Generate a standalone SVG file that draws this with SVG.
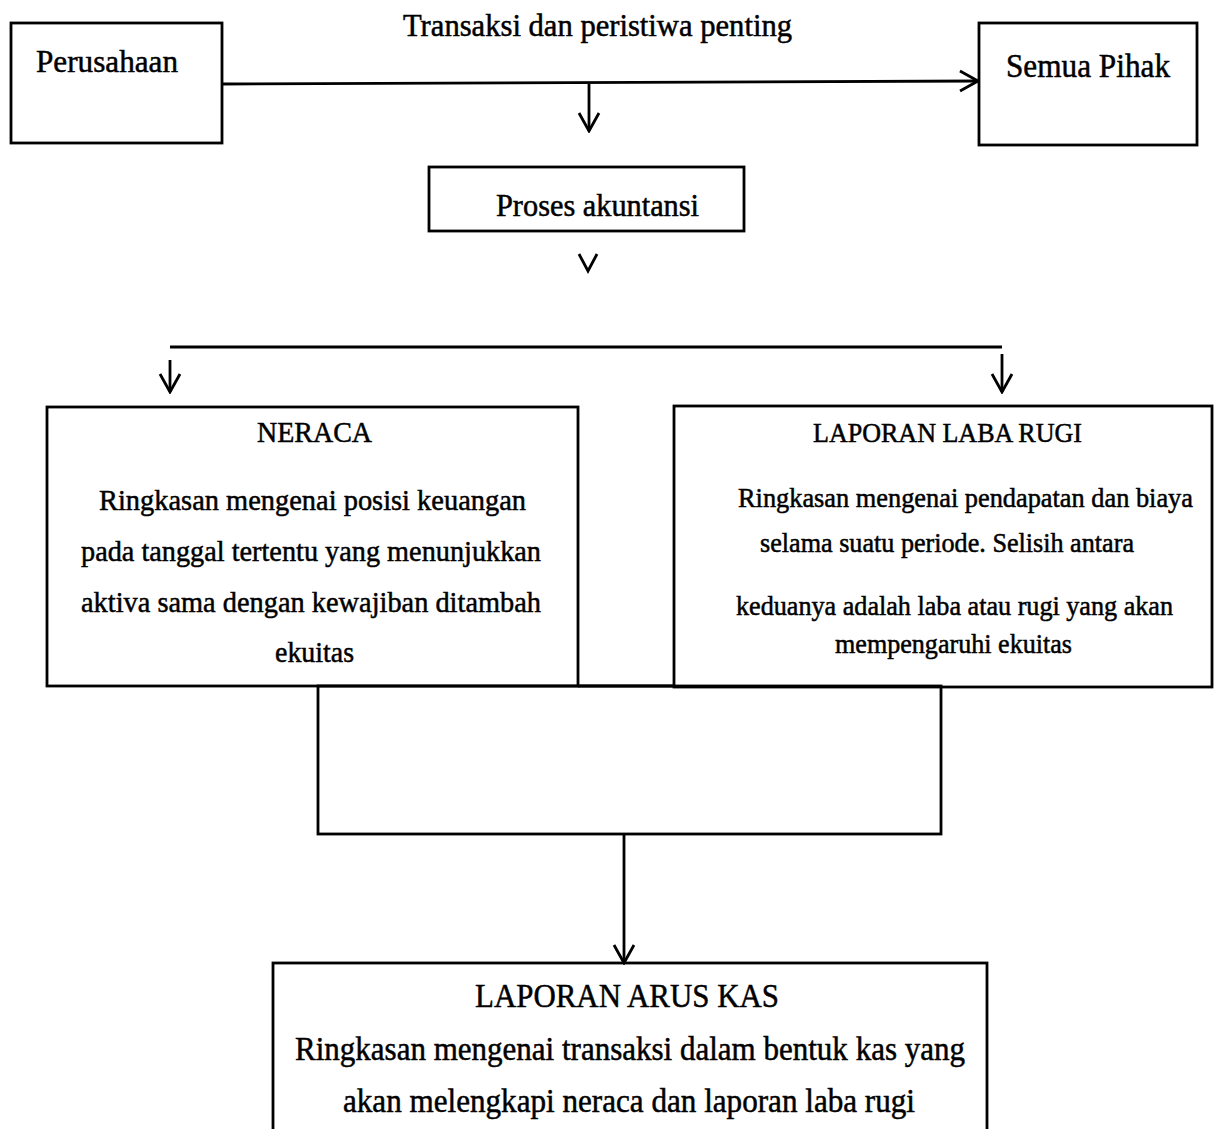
<svg xmlns="http://www.w3.org/2000/svg" width="1215" height="1129" viewBox="0 0 1215 1129">
<style>
  .box { fill: none; stroke: #000; stroke-width: 2.8; }
  .ln { fill: none; stroke: #000; stroke-width: 2.8; }
  text { font-family: "Liberation Serif", "Times New Roman", serif; fill: #000; stroke: #000; stroke-width: 0.5; }
</style>
<defs>
  <marker id="arrow" viewBox="0 0 22 24" refX="20" refY="12" markerWidth="22" markerHeight="24" orient="auto" markerUnits="userSpaceOnUse">
    <path d="M2,2 L20,12 L2,22" fill="none" stroke="#000" stroke-width="2.8"/>
  </marker>
</defs>
<rect width="1215" height="1129" fill="#fff"/>

<g id="connectors">
  <path class="ln" d="M222,84 L978,81" marker-end="url(#arrow)"/>
  <path class="ln" d="M589,84 L589,131" marker-end="url(#arrow)"/>
  <path class="ln" d="M579,254 L588,271 L597,254" stroke-width="3.2"/>
  <path class="ln" d="M170,347 L1002,347"/>
  <path class="ln" d="M170,360 L170,392" marker-end="url(#arrow)"/>
  <path class="ln" d="M1002,354 L1002,392" marker-end="url(#arrow)"/>
  <path class="ln" d="M578,686 L674,686"/>
  <path class="ln" d="M624,834 L624,963" marker-end="url(#arrow)"/>
</g>

<text id="lbl-transaksi" x="403" y="36" font-size="31" textLength="389" lengthAdjust="spacingAndGlyphs">Transaksi dan peristiwa penting</text>

<g id="node-perusahaan">
  <rect class="box" x="11" y="23" width="211" height="120"/>
  <text x="36" y="72" font-size="32" textLength="142" lengthAdjust="spacingAndGlyphs">Perusahaan</text>
</g>

<g id="node-semua-pihak">
  <rect class="box" x="979" y="23" width="218" height="122"/>
  <text x="1006" y="77" font-size="33" textLength="164" lengthAdjust="spacingAndGlyphs">Semua Pihak</text>
</g>

<g id="node-proses">
  <rect class="box" x="429" y="167" width="315" height="64"/>
  <text x="496" y="216" font-size="31" textLength="203" lengthAdjust="spacingAndGlyphs">Proses akuntansi</text>
</g>

<g id="node-neraca">
  <rect class="box" x="47" y="407" width="531" height="279"/>
  <text x="257" y="442" font-size="29" textLength="115" lengthAdjust="spacingAndGlyphs">NERACA</text>
  <text x="99" y="510" font-size="30" textLength="427" lengthAdjust="spacingAndGlyphs">Ringkasan mengenai posisi keuangan</text>
  <text x="81" y="561" font-size="30" textLength="460" lengthAdjust="spacingAndGlyphs">pada tanggal tertentu yang menunjukkan</text>
  <text x="81" y="612" font-size="30" textLength="460" lengthAdjust="spacingAndGlyphs">aktiva sama dengan kewajiban ditambah</text>
  <text x="275" y="662" font-size="30" textLength="79" lengthAdjust="spacingAndGlyphs">ekuitas</text>
</g>

<g id="node-laba-rugi">
  <rect class="box" x="674" y="406" width="538" height="281"/>
  <text x="813" y="442" font-size="27" textLength="269" lengthAdjust="spacingAndGlyphs">LAPORAN LABA RUGI</text>
  <text x="738" y="507" font-size="27" textLength="455" lengthAdjust="spacingAndGlyphs">Ringkasan mengenai pendapatan dan biaya</text>
  <text x="760" y="552" font-size="27" textLength="374" lengthAdjust="spacingAndGlyphs">selama suatu periode. Selisih antara</text>
  <text x="736" y="615" font-size="27" textLength="437" lengthAdjust="spacingAndGlyphs">keduanya adalah laba atau rugi yang akan</text>
  <text x="835" y="653" font-size="27" textLength="237" lengthAdjust="spacingAndGlyphs">mempengaruhi ekuitas</text>
</g>

<g id="node-gabungan">
  <rect class="box" x="318" y="686" width="623" height="148"/>
</g>

<g id="node-arus-kas">
  <rect class="box" x="273" y="963" width="714" height="200"/>
  <text x="475" y="1007" font-size="34" textLength="304" lengthAdjust="spacingAndGlyphs">LAPORAN ARUS KAS</text>
  <text x="295" y="1060" font-size="33" textLength="670" lengthAdjust="spacingAndGlyphs">Ringkasan mengenai transaksi dalam bentuk kas yang</text>
  <text x="343" y="1112" font-size="33" textLength="572" lengthAdjust="spacingAndGlyphs">akan melengkapi neraca dan laporan laba rugi</text>
</g>
</svg>
